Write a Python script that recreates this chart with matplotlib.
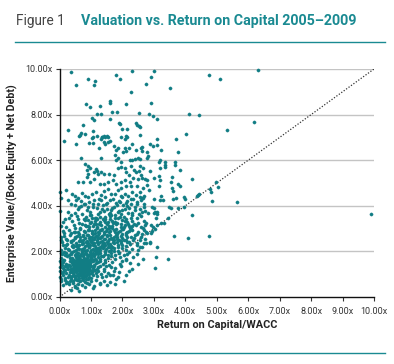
import matplotlib
matplotlib.use("Agg")
import matplotlib.pyplot as plt
from matplotlib.lines import Line2D
from matplotlib.ticker import FuncFormatter

plt.rcParams["font.family"] = ["Roboto", "DejaVu Sans"]

TEAL = "#117d84"
LINE_TEAL = "#1a8a92"

# ---- data: (Return on Capital/WACC, EV/(Book Equity + Net Debt)) ----
core_pts = [(0.22,1.05),(0.28,1.22),(0.31,0.98),(0.34,1.35),(0.37,1.12),(0.39,1.48),(0.41,0.92),(0.43,1.28),(0.44,1.05),(0.46,1.62),
 (0.47,1.18),(0.48,1.38),(0.50,0.88),(0.51,1.25),(0.52,1.52),(0.53,1.08),(0.54,1.33),(0.55,1.72),(0.56,0.95),(0.57,1.20),
 (0.58,1.45),(0.59,1.02),(0.60,1.30),(0.61,1.58),(0.62,1.15),(0.63,0.85),(0.64,1.38),(0.65,1.24),(0.66,1.66),(0.67,1.05),
 (0.68,1.48),(0.69,1.31),(0.70,0.92),(0.71,1.18),(0.72,1.55),(0.73,1.40),(0.74,1.10),(0.75,1.78),(0.76,1.27),(0.77,0.98),
 (0.78,1.50),(0.79,1.35),(0.80,1.14),(0.81,1.62),(0.82,1.22),(0.83,0.90),(0.84,1.44),(0.85,1.30),(0.86,1.70),(0.87,1.08),
 (0.88,1.52),(0.89,1.26),(0.90,1.38),(0.92,1.15),(0.93,1.60),(0.94,1.00),(0.95,1.32),(0.97,1.48),(0.98,1.20),(1.00,1.75),
 (1.01,1.36),(1.03,1.10),(1.05,1.56),(1.07,1.28),(1.09,1.42),(1.12,1.68),(1.14,1.18),(1.17,1.50),(0.26,1.42),(0.33,1.58),
 (0.36,0.86),(0.40,1.70),(0.45,1.45),(0.49,1.12),(0.52,0.80),(0.56,1.40),(0.60,1.68),(0.63,1.50),(0.66,0.96),(0.69,1.60),
 (0.72,1.25),(0.74,1.58),(0.77,1.20),(0.80,1.42),(0.83,1.65),(0.86,1.18),(0.91,1.50),(0.96,1.68),(0.58,1.28),(0.62,1.36),
 (0.68,1.20),(0.70,1.42),(0.75,1.32),(0.54,1.18),(0.47,1.30),(0.44,1.52),(0.65,1.10),(0.71,1.02),(0.79,1.06),(0.88,1.00)]

core2_pts = [(0.40,1.10),(0.46,0.98),(0.50,1.42),(0.55,1.56),(0.58,0.90),(0.61,1.22),(0.64,1.06),(0.67,1.44),(0.70,1.28),(0.73,1.64),
 (0.76,1.14),(0.78,0.88),(0.81,1.30),(0.84,1.56),(0.87,1.36),(0.90,1.10),(0.93,1.26),(0.96,1.42),(0.99,1.04),(1.02,1.58),
 (1.06,1.20),(1.10,1.34),(1.15,1.04),(1.20,1.22),(0.35,1.25),(0.30,1.40),(0.42,1.62),(0.53,1.88),(0.65,1.78),(0.77,1.70),
 (0.89,1.62),(1.00,1.90),(0.72,0.84),(0.60,0.76),(0.48,0.80),(0.84,0.80),(0.95,0.88),(1.08,0.96)]

low_pts = [(0.35,0.32),(0.55,0.38),(0.62,0.26),(0.80,0.43),(0.48,0.45),(1.05,0.40),(0.12,0.52),(0.30,0.55),(0.42,0.62),(0.50,0.50),
 (0.60,0.58),(0.70,0.52),(0.86,0.62),(0.95,0.55),(1.10,0.48),(1.30,0.60),(1.52,0.52),(0.05,0.70),(0.16,0.74),(0.25,0.66),
 (0.32,0.72),(0.38,0.78),(0.44,0.70),(0.55,0.74),(0.64,0.68),(0.74,0.75),(0.80,0.66),(0.90,0.78),(1.00,0.72),(1.15,0.76),
 (1.28,0.58),(1.40,0.70),(1.62,0.64),(1.80,0.78),(2.05,0.72),(1.75,0.55)]

fan_pts = [(0.02,0.88),(0.10,0.95),(0.16,0.84),(1.20,0.92),(1.35,0.86),(1.49,0.90),(1.62,0.98),(1.86,0.89),(2.10,0.95),(1.01,0.84),(1.70,0.96),
 (0.02,1.12),(0.08,1.04),(0.14,1.18),(1.24,1.12),(1.32,1.02),(1.42,1.16),(1.55,1.06),(1.72,1.14),(1.90,1.08),(2.22,1.15),
 (0.03,1.32),(0.10,1.26),(0.16,1.38),(1.22,1.30),(1.30,1.36),(1.40,1.24),(1.48,1.34),(1.65,1.33),(1.78,1.28),(1.96,1.36),(2.30,1.25),(3.03,1.26),
 (0.04,1.48),(0.12,1.55),(0.20,1.44),(1.22,1.52),(1.30,1.58),(1.38,1.46),(1.46,1.55),(1.56,1.42),(1.68,1.52),(1.91,1.45),(2.00,1.58),(2.25,1.50),(2.50,1.44),(2.12,1.62),
 (0.05,1.72),(0.15,1.64),(0.24,1.78),(0.32,1.70),(1.04,1.66),(1.10,1.78),(1.16,1.62),(1.22,1.74),(1.30,1.68),(1.38,1.78),(1.46,1.64),(1.55,1.72),
 (1.65,1.80),(1.78,1.66),(1.92,1.74),(2.10,1.68),(2.35,1.76),(2.64,1.67),(3.06,1.77),(3.44,1.68),(0.52,1.76),(0.60,1.80),(0.90,1.78),
 (0.08,1.88),(0.20,1.95),(0.30,1.84),(0.40,1.98),(0.48,1.86),(0.56,1.92),(0.63,1.82),(0.70,1.96),(0.77,1.88),(0.84,1.94),(0.90,1.84),(0.96,1.98),
 (1.02,1.90),(1.08,1.84),(1.15,1.96),(1.22,1.88),(1.30,1.94),(1.38,1.82),(1.46,1.97),(1.55,1.86),(1.65,1.93),(1.76,1.83),(1.90,1.95),(2.05,1.86),(2.14,1.89),(2.20,1.98),(2.45,1.90),
 (0.05,2.08),(0.18,2.15),(0.30,2.04),(0.42,2.18),(0.52,2.06),(0.62,2.12),(0.70,2.02),(0.78,2.16),(0.86,2.08),(0.94,2.19),(1.00,2.04),(1.08,2.12),(1.15,2.00),
 (1.22,2.17),(1.30,2.08),(1.38,2.14),(1.46,2.03),(1.55,2.18),(1.64,2.06),(1.74,2.13),(1.85,2.02),(1.98,2.16),(2.12,2.07),(2.30,2.12),(2.50,2.04),(2.63,2.18),(3.09,2.18),
 (0.10,2.28),(0.25,2.34),(0.40,2.24),(0.52,2.38),(0.63,2.26),(0.72,2.32),(0.82,2.22),(0.90,2.36),(0.98,2.28),(1.06,2.38),(1.14,2.24),(1.22,2.33),(1.30,2.21),
 (1.38,2.36),(1.46,2.27),(1.55,2.34),(1.64,2.23),(1.74,2.38),(1.85,2.29),(1.96,2.35),(2.10,2.24),(2.25,2.32),(2.45,2.26),(2.55,2.21),(2.70,2.38),(2.76,2.37),(2.87,2.36),
 (0.06,2.48),(0.22,2.55),(0.38,2.44),(0.50,2.58),(0.62,2.46),(0.74,2.52),(0.84,2.42),(0.94,2.57),(1.02,2.48),(1.10,2.54),(1.20,2.43),(1.28,2.58),(1.36,2.47),
 (1.45,2.55),(1.54,2.44),(1.63,2.59),(1.72,2.49),(1.82,2.56),(1.94,2.45),(2.06,2.52),(2.20,2.42),(2.36,2.57),(2.55,2.48),(2.72,2.53),(2.87,2.43),(4.08,2.58),
 (0.15,2.68),(0.32,2.74),(0.48,2.64),(0.62,2.78),(0.75,2.66),(0.86,2.72),(0.96,2.62),(1.06,2.77),(1.15,2.68),(1.24,2.74),(1.33,2.63),(1.42,2.78),(1.52,2.67),
 (1.62,2.73),(1.72,2.62),(1.84,2.76),(1.96,2.66),(2.10,2.71),(2.26,2.64),(2.45,2.77),(2.62,2.76),(2.78,2.79),(3.63,2.68),(4.74,2.69),
 (0.10,2.88),(0.30,2.95),(0.50,2.84),(0.66,2.97),(0.80,2.86),(0.92,2.92),(1.02,2.82),(1.12,2.96),(1.22,2.87),(1.32,2.93),(1.42,2.83),(1.52,2.98),(1.62,2.88),
 (1.74,2.94),(1.86,2.84),(2.00,2.97),(2.15,2.86),(2.32,2.92),(2.50,2.83),(2.74,2.86),(2.91,2.82),(2.93,2.91),(3.05,2.97),
 (0.22,3.08),(0.45,3.14),(0.64,3.04),(0.80,3.17),(0.95,3.06),(1.08,3.12),(1.20,3.02),(1.32,3.16),(1.44,3.07),(1.56,3.13),(1.68,3.03),(1.80,3.18),(1.94,3.08),
 (2.08,3.14),(2.24,3.04),(2.42,3.17),(2.60,3.08),(2.72,3.14),(2.91,3.16),(2.97,3.08),(3.10,3.16),
 (0.12,3.28),(0.40,3.35),(0.62,3.24),(0.82,3.38),(0.98,3.26),(1.12,3.32),(1.26,3.22),(1.40,3.36),(1.54,3.27),(1.68,3.33),(1.82,3.23),(1.98,3.38),(2.14,3.28),
 (2.32,3.34),(2.50,3.24),(2.70,3.32),(2.76,3.23),(3.23,3.23),(3.31,3.26),
 (0.30,3.48),(0.55,3.55),(0.78,3.44),(0.96,3.58),(1.12,3.46),(1.28,3.52),(1.44,3.42),(1.60,3.57),(1.76,3.47),(1.92,3.53),(2.10,3.43),(2.30,3.58),(2.48,3.48),
 (2.59,3.55),(2.80,3.70),(2.99,3.67),(3.11,3.64),(3.08,3.45),(3.45,3.45),(4.22,3.61)]

fan2_pts = [(0.35,1.92),(0.52,2.22),(0.63,1.70),(0.74,2.36),(0.86,1.86),(0.98,2.48),(1.10,2.06),(1.24,2.60),(1.36,2.18),(1.50,2.74),
 (1.62,2.32),(1.76,2.86),(1.88,2.50),(2.02,3.00),(2.16,2.62),(2.30,3.12),(0.44,2.52),(0.58,2.86),(0.70,3.20),(0.84,3.52),
 (0.97,3.72),(1.08,3.95),(1.22,3.62),(1.35,3.86),(1.48,4.08),(1.60,3.70),(1.74,3.96),(1.88,4.22),(2.00,3.80),(2.14,4.00),
 (2.26,4.32),(2.40,3.96),(0.40,1.58),(0.57,1.64),(0.68,1.88),(0.82,2.02),(0.94,1.84),(1.05,2.26),(1.16,2.14),(1.28,2.42),
 (1.42,2.36),(1.56,2.56),(1.70,2.42),(1.84,2.62),(1.98,2.78),(2.10,2.52),(2.22,2.90),(2.40,2.70),(0.25,2.52),(0.36,2.80),
 (0.48,3.02),(0.60,3.40),(0.72,3.64),(0.85,3.12),(0.94,2.94),(1.04,3.46),(1.17,3.22),(1.28,3.72),(1.38,3.44),(1.52,3.86),
 (1.64,3.58),(1.77,3.28),(1.90,3.76),(2.04,3.50),(2.18,3.70),(2.36,3.22),(2.52,3.62),(2.64,3.02),(0.15,1.98),(0.22,2.26),
 (0.08,2.40),(0.04,1.95),(0.02,1.60),(0.07,1.40),(0.18,1.20),(0.12,1.08),(0.06,0.80),(0.20,0.62),(0.28,0.88),(0.24,1.30),
 (0.32,1.10),(0.38,1.25),(0.42,1.40),(1.12,1.88),(1.26,1.96),(1.34,2.30),(1.48,2.12),(1.60,2.20),(1.72,2.02),(1.86,2.18),
 (2.00,2.30),(2.16,2.40),(2.34,2.50),(2.48,2.36),(2.58,2.64),(2.68,2.92),(1.02,2.64),(1.14,2.80),(1.30,2.92),(1.40,2.55),
 (1.58,2.84),(1.68,3.10),(1.80,2.98),(1.94,3.22),(2.08,3.34),(2.20,3.10),(0.88,2.46),(0.76,2.70),(0.66,2.50),(0.56,2.66),
 (0.46,2.84),(0.92,3.36),(1.00,3.60),(1.10,3.18),(1.20,3.40),(1.46,3.30),(1.56,3.66),(1.66,3.92),(1.84,4.04),(1.98,4.38),
 (2.12,4.12),(2.22,3.90),(2.32,3.70),(2.46,4.06),(2.56,3.84),(1.06,4.10),(1.26,4.30),(1.44,4.40),(0.92,3.94),(0.78,4.08),
 (0.62,3.94),(0.50,3.70),(0.38,3.60),(0.18,3.40),(0.06,3.10),(0.14,2.82),(0.04,2.62)]

mid_pts = [(0.55,2.30),(0.68,2.44),(0.80,2.58),(0.92,2.70),(1.04,2.90),(1.18,3.05),(1.30,3.30),(1.45,3.50),(0.72,2.12),(0.88,2.28),
 (1.00,2.40),(1.12,2.62),(1.25,2.80),(1.36,3.00),(1.50,3.20),(1.62,3.40),(1.78,3.58),(0.60,1.95),(0.75,2.05),(0.95,2.20),
 (1.10,2.35),(1.20,2.52),(1.35,2.66),(1.48,2.88),(1.58,3.02),(1.70,3.25),(1.85,3.45),(1.95,3.62),(0.45,2.02),(0.58,2.16),
 (0.66,2.62),(0.78,2.88),(0.90,3.10),(1.00,3.30),(1.15,3.48),(1.25,2.10),(1.40,2.25),(1.52,2.42),(1.66,2.56),(1.80,2.70),
 (1.92,2.90),(2.04,3.05),(2.18,3.22),(2.28,3.48),(0.35,2.40),(0.28,2.10),(0.18,1.85),(0.12,1.62),(0.38,1.88),(0.42,2.26),
 (1.06,1.92),(1.18,2.02),(1.32,1.80),(1.44,1.90),(1.58,2.00),(1.68,2.20),(1.82,2.40),(1.98,2.58),(2.12,2.80),(2.28,2.98)]

upper_pts = [(0.13,6.86),(0.61,7.05),(1.02,6.96),(1.07,6.77),(0.95,6.75),(1.25,6.52),(1.31,6.93),(1.36,7.03),(1.42,6.82),(1.46,6.73),
 (1.54,7.00),(1.53,6.82),(1.59,6.84),(1.96,7.03),(2.09,6.93),(2.07,6.52),(1.73,6.64),(1.79,6.43),(1.87,6.52),(2.02,6.37),
 (2.12,6.39),(2.20,6.52),(2.30,6.70),(2.44,6.45),(2.58,6.52),(0.54,6.70),(0.67,6.08),(1.33,6.08),(1.75,6.23),(1.86,6.11),
 (1.81,5.99),(1.94,5.94),(2.24,6.02),(2.32,5.99),(2.39,6.05),(2.49,6.08),(2.55,6.05),(0.82,5.82),(0.90,5.76),(0.97,5.64),
 (0.88,5.57),(0.90,5.38),(0.86,5.26),(1.09,5.50),(1.15,5.61),(1.20,5.53),(1.22,5.38),(1.33,5.47),(1.41,5.38),(1.56,5.41),
 (1.73,5.35),(1.86,5.67),(1.96,5.70),(2.07,5.64),(2.28,5.76),(2.13,5.50),(2.20,5.35),(2.37,5.58),(2.43,5.47),(2.52,5.53),
 (2.58,5.35),(2.65,5.64),(2.62,5.23),(2.49,5.17),(2.35,5.20),(2.24,5.06),(2.07,5.12),(1.96,5.03),(1.81,4.97),(1.71,5.15),
 (1.54,5.06),(1.43,4.94),(1.28,4.97),(1.11,5.18),(0.97,5.06),(0.75,5.03),(0.60,5.06),(0.20,4.71),(0.39,4.50),(0.50,4.44),
 (0.58,4.36),(0.73,4.56),(0.80,4.42),(0.90,4.39),(1.03,4.53),(1.16,4.62),(1.31,4.47),(1.43,4.65),(1.54,4.74),(1.64,4.50),
 (1.75,4.53),(1.86,4.68),(1.94,4.44),(2.09,4.53),(2.18,4.42),(2.30,4.62),(2.43,4.47),(2.56,4.59),(2.69,4.42),(2.64,4.77),
 (2.47,4.88),(2.28,4.85),(2.11,4.85),(1.96,4.77),(0.03,4.59),(0.05,4.33),(0.26,4.24),(0.35,4.09),(0.48,4.04),(0.52,4.24),
 (0.67,4.21),(0.69,4.01),(0.82,4.09),(0.94,4.18),(1.11,4.24),(1.22,4.06),(1.33,4.24),(1.39,4.04),(1.52,4.12),(1.60,4.24),
 (1.71,4.30),(1.79,4.12),(1.92,4.18),(2.03,4.04),(2.15,4.21),(2.26,4.09),(2.35,4.30),(2.47,4.15),(2.58,4.24),(2.69,4.09),
 (0.03,3.77),(0.26,3.71),(0.58,3.86),(0.88,3.80),(1.20,3.89),(1.43,3.77),(1.64,3.83),(1.86,3.71),(2.09,3.86),(2.39,3.80),(2.62,3.71)]

right_pts = [(3.72,6.93),(2.87,6.70),(2.97,6.64),(3.10,6.67),(2.61,6.59),(2.61,6.40),(2.78,6.35),(2.81,6.20),(2.78,6.11),(3.23,6.46),
 (3.78,6.35),(3.18,6.01),(3.16,5.91),(3.34,5.93),(3.35,5.79),(3.66,5.93),(3.67,5.79),(2.55,5.76),(2.87,5.53),(3.21,5.64),
 (3.35,5.70),(3.84,5.57),(2.71,5.16),(2.78,5.13),(3.02,5.21),(3.16,5.32),(3.21,5.14),(3.57,5.25),(3.54,5.03),(3.76,4.97),
 (3.82,4.87),(4.20,5.19),(2.78,4.91),(2.84,4.69),(3.16,4.88),(3.59,4.79),(3.61,4.65),(4.99,5.03),(5.04,4.84),(4.81,4.59),
 (4.42,4.50),(4.37,4.42),(3.96,4.39),(3.99,4.30),(4.86,4.21),(2.55,4.40),(2.61,4.36),(2.65,4.33),(3.02,4.29),(3.18,4.25),
 (3.23,4.44),(3.28,4.25),(3.60,4.29),(3.71,4.36),(2.68,3.95),(2.93,3.95),(2.99,3.92),(3.47,3.94),(3.54,3.90),(3.77,3.92),
 (3.97,3.96),(2.72,3.77),(3.04,3.74),(3.10,3.71),(4.80,4.72),(4.39,4.47)]

top_pts = [(0.35,9.85),(0.90,9.55),(1.14,9.47),(1.11,9.30),(0.54,9.30),(1.79,9.72),(1.92,9.58),(2.30,9.93),(2.27,8.99),(0.83,8.48),
 (0.96,8.35),(1.28,8.39),(1.59,8.60),(1.62,8.52),(2.10,8.46),(1.20,8.04),(1.02,7.86),(1.09,7.76),(1.32,8.01),(1.68,8.10),
 (1.84,8.10),(1.60,7.81),(1.90,7.65),(1.93,7.58),(2.53,8.08),(2.42,7.61),(2.45,7.55),(2.16,7.38),(2.00,7.35),(2.53,7.50),
 (0.27,7.31),(0.76,7.54),(0.67,7.21),(0.81,7.15),(0.64,7.10),(1.06,7.28),(1.20,7.05),(1.40,7.06),(1.44,7.02),(1.50,7.08),
 (1.36,7.00),(1.06,7.00),(2.10,7.05),(2.14,7.00),
 (3.00,9.90),(2.91,9.66),(2.75,9.33),(3.51,9.17),(4.74,9.75),(5.10,9.58),(2.90,8.49),(2.83,8.04),(2.97,7.95),(3.11,7.79),
 (4.11,8.01),(4.44,7.97),(2.55,7.47),(2.55,7.10),(4.02,7.13),(5.32,7.31),(3.09,6.91),(6.31,9.96),(6.20,7.68),(5.63,4.17),(9.90,3.64)]

x_ticks = [0, 1, 2, 3, 4, 5, 6, 7, 8, 9, 10]
y_ticks = [0, 2, 4, 6, 8, 10]
diag_x = [0, 10]
diag_y = [0, 10]

fig = plt.figure(figsize=(3.94, 3.64), dpi=100)
ax = fig.add_axes([59.5 / 394, 1 - 297 / 364, (374 - 59.5) / 394, (297 - 69) / 364])

all_pts = core_pts + core2_pts + low_pts + fan_pts + fan2_pts + mid_pts + upper_pts + right_pts + top_pts
xs = [p[0] for p in all_pts]
ys = [p[1] for p in all_pts]

for yv in y_ticks[1:]:
    ax.axhline(yv, color="#c4c4c4", lw=1.0, zorder=0)

ax.plot(diag_x, diag_y, color="#333333", lw=0.9, linestyle=(0, (1, 1.4)), zorder=1)
ax.plot(xs, ys, linestyle="none", marker="o", markersize=2.3, markerfacecolor=TEAL,
        markeredgecolor=TEAL, markeredgewidth=0.3, zorder=2, clip_on=False)

ax.set_xlim(0, 10)
ax.set_ylim(0, 10)
ax.set_xticks(x_ticks)
ax.set_yticks(y_ticks)
fmt = FuncFormatter(lambda v, p: f"{v:.2f}x")
ax.xaxis.set_major_formatter(fmt)
ax.yaxis.set_major_formatter(fmt)
ax.tick_params(axis="both", labelsize=6.5, colors="#333333", length=3, width=0.8, pad=2)
ax.tick_params(axis="x", pad=4)
for s in ("top", "right"):
    ax.spines[s].set_visible(False)
for s in ("left", "bottom"):
    ax.spines[s].set_color("#111111")
    ax.spines[s].set_linewidth(1.0)

ax.set_xlabel("Return on Capital/WACC", fontsize=7.8, fontweight="bold", color="#222222", labelpad=3)
ax.set_ylabel("Enterprise Value/(Book Equity + Net Debt)", fontsize=7.6, fontweight="bold", color="#222222", labelpad=5)

fig.text(16 / 394, 1 - 25 / 364, "Figure 1", fontsize=9.8, color="#444444", ha="left", va="baseline")
fig.text(81 / 394, 1 - 25 / 364, "Valuation vs. Return on Capital 2005\u20132009", fontsize=10.3,
         fontweight="bold", color=LINE_TEAL, ha="left", va="baseline")
fig.add_artist(Line2D([15 / 394, 385 / 394], [1 - 42 / 364, 1 - 42 / 364], color=LINE_TEAL, lw=1.0))
fig.add_artist(Line2D([15 / 394, 385 / 394], [1 - 353 / 364, 1 - 353 / 364], color=LINE_TEAL, lw=1.0))

fig.savefig("out.png", dpi=100)
